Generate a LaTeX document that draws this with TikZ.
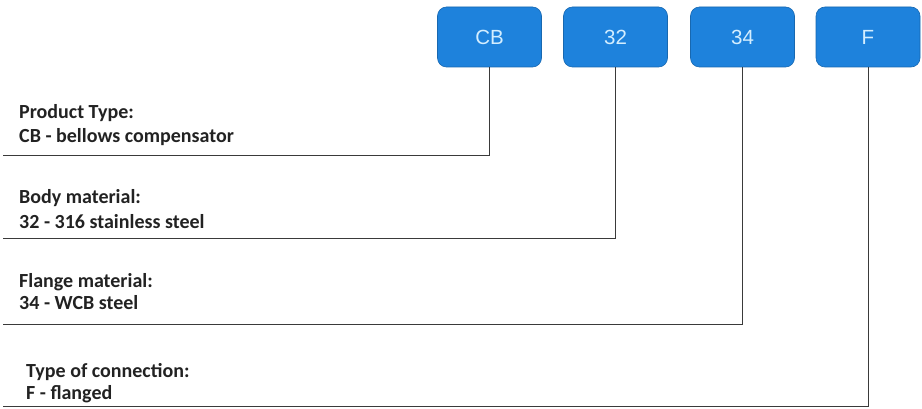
\documentclass[tikz,border=0pt]{standalone}
\usepackage{fontspec}
\setmainfont{Carlito}
\newfontfamily\boxfont{Liberation Sans}
\definecolor{boxblue}{HTML}{1E82DC}
\definecolor{boxtext}{HTML}{D4EEFF}
\definecolor{linegray}{HTML}{3A3A3A}
\definecolor{labeltext}{HTML}{222222}
\begin{document}
\begin{tikzpicture}[x=1pt,y=-1pt,
  codebox/.style={draw=boxblue!80!black, line width=0.6pt, fill=boxblue, rounded corners=9pt,
    minimum width=104pt, minimum height=60pt, inner sep=0pt,
    font=\boxfont\fontsize{20.5}{24}\selectfont, text=boxtext},
  lbl/.style={anchor=west, inner sep=0pt, font=\bfseries\fontsize{20}{24}\selectfont, text=labeltext},
  conn/.style={draw=linegray, line width=0.9pt}]
\useasboundingbox (0,0) rectangle (922,409);
\fill[white] (0,0) rectangle (922,409);
% code boxes
\node[codebox] (cb) at (489.5,37) {CB};
\node[codebox] (b32) at (615.5,37) {32};
\node[codebox] (b34) at (742.5,37) {34};
\node[codebox] (bf) at (868,37) {F};
% connector ends
\coordinate (e1) at (3,155);
\coordinate (e2) at (3,238);
\coordinate (e3) at (3,324);
\coordinate (e4) at (3,406);
\draw[conn] (cb.south) |- (e1);
\draw[conn] (b32.south) |- (e2);
\draw[conn] (b34.south) |- (e3);
\draw[conn] (bf.south) |- (e4);
% labels
\node[lbl] (l1a) at (19,113) {Product Type:};
\node[lbl] (l1b) at (19,137) {CB - bellows compensator};
\node[lbl] (l2a) at (19,198) {Body material:};
\node[lbl] (l2b) at (19,222) {32 - 316 stainless steel};
\node[lbl] (l3a) at (19,282) {Flange material:};
\node[lbl] (l3b) at (19,303) {34 - WCB steel};
\node[lbl] (l4a) at (26,372) {Type of connection:};
\node[lbl] (l4b) at (26,394) {F - flanged};
\end{tikzpicture}
\end{document}
